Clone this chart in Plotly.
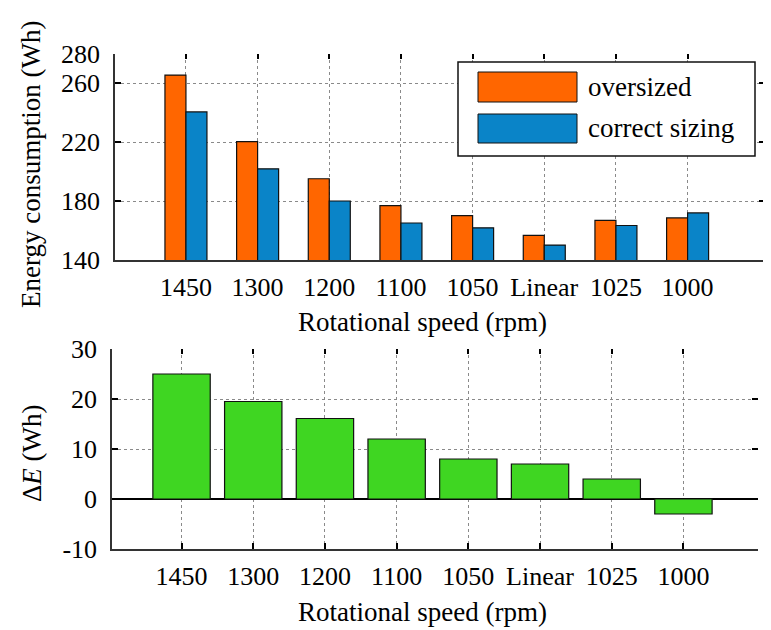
import plotly.graph_objects as go

# ---------------- data ----------------
categories = ["1450", "1300", "1200", "1100", "1050", "Linear", "1025", "1000"]
oversized = [265.4, 220.2, 195.1, 176.9, 170.1, 156.7, 166.8, 168.5]
correct_sizing = [240.4, 201.8, 180.0, 165.1, 161.8, 150.1, 163.4, 171.9]
delta_e = [25.0, 19.5, 16.1, 12.0, 8.0, 7.0, 4.0, -3.0]
energy_ticks = [140, 180, 220, 260, 280]
energy_ticktext = ["140", "180", "220", "260", "280"]
delta_ticks = [-10, 0, 10, 20, 30]
delta_ticktext = ["-10", "0", "10", "20", "30"]

# ---------------- style ----------------
W, H = 771, 630
OFF = 8  # page offset of the figure (body margin)
FONT = "Liberation Serif"
ORANGE = "#FF6600"
BLUE = "#0A84C8"
GREEN = "#3FD622"
GRID = "#8a8a8a"
TICKSIZE = 26
TITLESIZE = 27


def fx(p):
    return (p - OFF) / W


def fy(p):
    return 1 - (p - OFF) / H


idx = list(range(len(categories)))
bw = 0.293

fig = go.Figure()
fig.add_trace(go.Bar(x=idx, y=oversized, name="oversized", width=bw, offset=-bw,
                     marker=dict(color=ORANGE, line=dict(color="#111", width=1.2)),
                     xaxis="x", yaxis="y", showlegend=False))
fig.add_trace(go.Bar(x=idx, y=correct_sizing, name="correct sizing", width=bw, offset=0,
                     marker=dict(color=BLUE, line=dict(color="#111", width=1.2)),
                     xaxis="x", yaxis="y", showlegend=False))
fig.add_trace(go.Bar(x=idx, y=delta_e, name="ΔE", width=0.8,
                     marker=dict(color=GREEN, line=dict(color="#111", width=1.2)),
                     xaxis="x2", yaxis="y2", showlegend=False))
# helper traces so that the mirrored tick axes are drawn
fig.add_trace(go.Scatter(x=[None], y=[None], xaxis="x3", yaxis="y3",
                         showlegend=False, hoverinfo="skip"))
fig.add_trace(go.Scatter(x=[None], y=[None], xaxis="x4", yaxis="y4",
                         showlegend=False, hoverinfo="skip"))

top_xr = [-0.99, 8.08]
bot_xr = [-0.97, 8.04]
top_yr = [140, 280]
bot_yr = [-10, 30]

tickfont = dict(family=FONT, size=TICKSIZE, color="black")
common = dict(showgrid=True, gridcolor=GRID, griddash="dot", gridwidth=1, automargin=False)
mirror = dict(showticklabels=False, showgrid=False, showline=False, zeroline=False,
              automargin=False, tickcolor="black", ticks="inside")

fig.update_layout(
    width=W, height=H, margin=dict(l=0, r=0, t=0, b=0, pad=0, autoexpand=False),
    paper_bgcolor="white", plot_bgcolor="white",
    barmode="group", font=dict(family=FONT, color="black"),
    xaxis=dict(domain=[fx(115), fx(765)], range=top_xr, anchor="y",
               tickvals=idx, ticktext=categories, tickfont=tickfont,
               ticks="", showline=True, linecolor="#333", linewidth=1.5,
               zeroline=False, ticklabelstandoff=3, **common),
    yaxis=dict(domain=[fy(260), fy(53.5)], range=top_yr, anchor="x",
               tickvals=energy_ticks, ticktext=energy_ticktext, tickfont=tickfont,
               ticks="inside", ticklen=6, tickwidth=2, tickcolor="black",
               showline=True, linecolor="#333", linewidth=1.5,
               zeroline=False, ticklabelstandoff=8, **common),
    xaxis3=dict(overlaying="x", side="top", anchor="y3", range=top_xr,
                tickvals=idx, ticklen=5, tickwidth=2, **mirror),
    yaxis3=dict(overlaying="y", side="right", anchor="x3", range=top_yr,
                tickvals=energy_ticks, ticklen=6, tickwidth=2, **mirror),
    xaxis2=dict(domain=[fx(112), fx(758)], range=bot_xr, anchor="y2",
                tickvals=idx, ticktext=categories, tickfont=tickfont,
                ticks="inside", ticklen=6, tickwidth=1.5, tickcolor="black",
                showline=True, linecolor="#333", linewidth=1.5,
                zeroline=False, ticklabelstandoff=3, **common),
    yaxis2=dict(domain=[fy(549), fy(349)], range=bot_yr, anchor="x2",
                tickvals=delta_ticks, ticktext=delta_ticktext, tickfont=tickfont,
                ticks="inside", ticklen=6, tickwidth=2, tickcolor="black",
                showline=True, linecolor="#333", linewidth=1.5,
                zeroline=True, zerolinecolor="black", zerolinewidth=1.5,
                ticklabelstandoff=8, **common),
    xaxis4=dict(overlaying="x2", side="top", anchor="y4", range=bot_xr,
                tickvals=idx, ticklen=5, tickwidth=2, **mirror),
    yaxis4=dict(overlaying="y2", side="right", anchor="x4", range=bot_yr,
                tickvals=delta_ticks, ticklen=6, tickwidth=2, **mirror),
)

titlefont = dict(family=FONT, size=TITLESIZE, color="black")
annotations = [
    dict(text="Rotational speed (rpm)", x=fx(422), y=fy(321.5), xref="paper", yref="paper",
         showarrow=False, font=titlefont, xanchor="center", yanchor="middle"),
    dict(text="Rotational speed (rpm)", x=fx(422), y=fy(612), xref="paper", yref="paper",
         showarrow=False, font=titlefont, xanchor="center", yanchor="middle"),
    dict(text="Energy consumption (Wh)", x=fx(31), y=fy(165), xref="paper", yref="paper",
         showarrow=False, font=titlefont, textangle=-90, xanchor="center", yanchor="middle"),
    dict(text="Δ<i>E</i> (Wh)", x=fx(32), y=fy(453), xref="paper", yref="paper",
         showarrow=False, font=titlefont, textangle=-90, xanchor="center", yanchor="middle"),
    dict(text="oversized", x=fx(586), y=fy(87), xref="paper", yref="paper",
         showarrow=False, font=titlefont, xanchor="left", yanchor="middle"),
    dict(text="correct sizing", x=fx(586), y=fy(128), xref="paper", yref="paper",
         showarrow=False, font=titlefont, xanchor="left", yanchor="middle"),
]
shapes = [
    dict(type="rect", xref="paper", yref="paper", x0=fx(458), x1=fx(755), y0=fy(156), y1=fy(62),
         line=dict(color="#111", width=1.5), fillcolor="white", layer="above"),
    dict(type="rect", xref="paper", yref="paper", x0=fx(478), x1=fx(577), y0=fy(102), y1=fy(72),
         line=dict(color="#111", width=1), fillcolor=ORANGE, layer="above"),
    dict(type="rect", xref="paper", yref="paper", x0=fx(478), x1=fx(577), y0=fy(143), y1=fy(114),
         line=dict(color="#111", width=1), fillcolor=BLUE, layer="above"),
]
fig.update_layout(annotations=annotations, shapes=shapes)

fig.write_html("out.html")
